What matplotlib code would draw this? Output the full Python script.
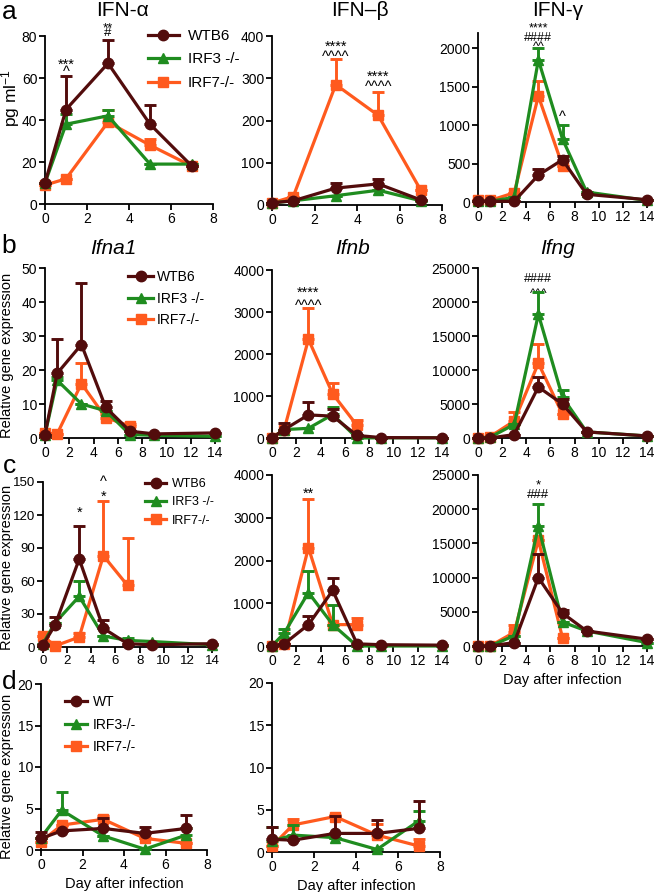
import matplotlib
matplotlib.use("Agg")
import matplotlib.pyplot as plt
from matplotlib.lines import Line2D
from matplotlib.transforms import ScaledTranslation
import numpy as np

plt.rcParams['font.family'] = ['Liberation Sans', 'DejaVu Sans']
plt.rcParams['mathtext.fontset'] = 'custom'
plt.rcParams['mathtext.rm'] = 'Liberation Sans'
plt.rcParams['mathtext.it'] = 'Liberation Sans:italic'

W, H = 654, 892
C_WT = '#520c0c'
C_3 = '#1f8c1f'
C_7 = '#ff5a1e'

# ---------------- data ----------------
days_a = [0, 1, 3, 5, 7]
days_long = [0, 1, 3, 5, 7, 9, 14]

# Panel a: IFN-alpha (pg/ml)
a1_wt = [10, 45, 67, 38, 18]
a1_wt_err = [10, 61, 78, 47, 18]
a1_irf3 = [10, 38, 42, 19, 19]
a1_irf3_err = [10, 43, 45, 19, 19]
a1_irf7 = [9, 12, 39, 28, 18]
a1_irf7_err = [9, 12, 45, 31, 18]
# IFN-beta
a2_wt = [5, 10, 40, 50, 12]
a2_wt_err = [5, 10, 52, 62, 12]
a2_irf3 = [5, 10, 22, 35, 10]
a2_irf3_err = [5, 10, 22, 35, 10]
a2_irf7 = [5, 20, 285, 212, 35]
a2_irf7_err = [5, 20, 345, 268, 35]
# IFN-gamma
a3_wt = [10, 10, 10, 350, 550, 100, 30]
a3_wt_err = [10, 10, 10, 430, 600, 100, 30]
a3_irf3 = [10, 10, 60, 1850, 820, 130, 20]
a3_irf3_err = [10, 10, 60, 2000, 1000, 130, 20]
a3_irf7 = [20, 20, 120, 1380, 470]
a3_irf7_err = [20, 20, 120, 1580, 470]

# Panel b: Ifna1 / Ifnb / Ifng
b1_wt = [1, 19, 27.5, 9, 2, 1.2, 1.5]
b1_wt_err = [1, 29, 45.5, 11, 2, 1.2, 1.5]
b1_irf3 = [1, 17, 10, 8, 1, 0.8, 0.5]
b1_irf3_err = [1, 18, 10, 8, 1, 0.8, 0.5]
b1_irf7 = [1.5, 1.2, 16, 6, 3.5]
b1_irf7_err = [1.5, 1.2, 22, 7, 4]
b2_wt = [0, 200, 550, 520, 60, 10, 5]
b2_wt_err = [0, 350, 850, 680, 60, 10, 5]
b2_irf3 = [0, 200, 230, 560, 0, 5, 5]
b2_irf3_err = [0, 200, 230, 750, 0, 5, 5]
b2_irf7 = [0, 200, 2350, 1050, 300]
b2_irf7_err = [0, 200, 3100, 1300, 430]
b3_wt = [0, 0, 500, 7500, 5000, 900, 300]
b3_wt_err = [0, 0, 500, 9000, 5700, 900, 300]
b3_irf3 = [0, 100, 2000, 18200, 6000, 900, 300]
b3_irf3_err = [0, 100, 2000, 21500, 7000, 900, 300]
b3_irf7 = [0, 200, 2500, 11000, 3500]
b3_irf7_err = [0, 200, 3800, 13800, 3500]

# Panel c
c1_wt = [2, 20, 80, 17, 3, 2, 3]
c1_wt_err = [2, 27, 110, 25, 3, 2, 3]
c1_irf3 = [3, 22, 46, 10, 6, 5, 2]
c1_irf3_err = [3, 22, 60, 10, 8, 5, 2]
c1_irf7 = [10, 1, 9, 83, 56]
c1_irf7_err = [10, 1, 13, 133, 99]
c2_wt = [0, 50, 500, 1300, 50, 30, 20]
c2_wt_err = [0, 50, 700, 1600, 50, 30, 20]
c2_irf3 = [0, 300, 1250, 500, 0, 0, 0]
c2_irf3_err = [0, 400, 1750, 950, 0, 0, 0]
c2_irf7 = [0, 50, 2300, 500, 500]
c2_irf7_err = [0, 50, 3450, 500, 650]
c3_wt = [0, 0, 500, 10000, 4800, 2200, 1000]
c3_wt_err = [0, 0, 500, 13500, 5200, 2200, 1000]
c3_irf3 = [0, 0, 1500, 17500, 3500, 2200, 500]
c3_irf3_err = [0, 0, 1500, 20800, 3500, 2200, 500]
c3_irf7 = [0, 0, 2000, 15500, 1200]
c3_irf7_err = [0, 0, 3000, 15500, 1200]

# Panel d
d1_wt = [1.4, 2.3, 2.6, 2.0, 2.6]
d1_wt_err = [2.2, 2.3, 3.8, 2.8, 4.2]
d1_irf3 = [1.5, 4.8, 1.7, 0.1, 1.8]
d1_irf3_err = [1.5, 7.0, 1.7, 0.1, 2.6]
d1_irf7 = [1.0, 3.0, 3.7, 1.4, 0.8]
d1_irf7_err = [1.0, 3.0, 4.1, 1.4, 0.8]
d2_wt = [1.5, 1.4, 2.2, 2.2, 2.8]
d2_wt_err = [3.0, 1.4, 4.3, 3.8, 6.0]
d2_irf3 = [1.3, 2.0, 1.7, 0.3, 3.7]
d2_irf3_err = [3.0, 3.2, 1.7, 0.3, 4.9]
d2_irf7 = [0.7, 3.2, 4.2, 2.0, 0.7]
d2_irf7_err = [0.7, 3.9, 4.4, 3.3, 1.5]

labels_abc = ['WTB6', 'IRF3 -/-', 'IRF7-/-']
labels_d = ['WT', 'IRF3-/-', 'IRF7-/-']

fig = plt.figure(figsize=(W / 100, H / 100), dpi=100)


def make_ax(x0, x1, yb, yt, xlim, ylim, xticks, yticks, tfs=10):
    ax = fig.add_axes([x0 / W, 1 - yb / H, (x1 - x0) / W, (yb - yt) / H])
    ax.set_xlim(xlim)
    ax.set_ylim(ylim)
    ax.set_xticks(xticks)
    ax.set_yticks(yticks)
    for s in ['top', 'right']:
        ax.spines[s].set_visible(False)
    for s in ['left', 'bottom']:
        ax.spines[s].set_linewidth(1.3)
    ax.tick_params(direction='out', length=4, width=1.3, labelsize=tfs, pad=1.5)
    ax.patch.set_alpha(0)
    return ax


def series(ax, x, y, ye, color, marker, z, ms=7):
    x = np.array(x[:len(y)], dtype=float)
    y = np.array(y, dtype=float)
    up = np.array(ye, dtype=float) - y
    ax.errorbar(x, y, yerr=[np.zeros_like(up), up], color=color, ecolor=color,
                lw=2.3, elinewidth=2.1, capsize=4.5, capthick=2.1, marker=marker,
                ms=ms, zorder=z, clip_on=False)


def three(ax, x, wt, wte, i3, i3e, i7, i7e):
    series(ax, x, i7, i7e, C_7, 's', 3, 7)
    series(ax, x, i3, i3e, C_3, '^', 4, 7)
    series(ax, x, wt, wte, C_WT, 'o', 5, 7.5)


def legend(ax, labels, xpx, ypx, fs, hl, pad, spacing):
    handles = [Line2D([], [], color=C_WT, marker='o', lw=2.3, ms=7.5),
               Line2D([], [], color=C_3, marker='^', lw=2.3, ms=7),
               Line2D([], [], color=C_7, marker='s', lw=2.3, ms=7)]
    ax.legend(handles, labels, loc='upper left', bbox_to_anchor=(xpx / W, 1 - ypx / H),
              bbox_transform=fig.transFigure, frameon=False, fontsize=fs,
              handlelength=hl, handletextpad=pad, labelspacing=spacing,
              borderpad=0, borderaxespad=0)


# glyph centre height above baseline (em)
KOFF = {'*': 0.57, '^': 0.52, '#': 0.36}
ASC = 0.716   # 'l' ascent (em)
DESC = 0.21   # 'p' descent (em)


def stack(ax, x, y, lines, sep_px, fs):
    """Stacked significance marks; y = data y of the centre of the top glyph row."""
    fpx = fs * 100 / 72
    n = len(lines)
    k0, k1 = KOFF[lines[0][0]], KOFF[lines[-1][0]]
    ls = 1.0
    if n > 1:
        step = (sep_px * (n - 1) - (k0 - k1) * fpx) / (n - 1)
        ls = max((step / fpx - DESC) / ASC, 0.01)
    up = (ASC - k0) * fs / 72
    tr = ax.transData + ScaledTranslation(0, up, fig.dpi_scale_trans)
    ax.text(x, y, '\n'.join(lines), ha='center', va='top', fontsize=fs,
            linespacing=ls, transform=tr, clip_on=False)


def title(xpx, ypx, s, italic=False):
    fig.text(xpx / W, 1 - ypx / H, s, fontsize=15, ha='center', va='center',
             style='italic' if italic else 'normal')


# ---------- row a ----------
ax = make_ax(45, 213, 204, 36, (0, 8), (0, 80), range(0, 9, 2), range(0, 81, 20))
three(ax, days_a, a1_wt, a1_wt_err, a1_irf3, a1_irf3_err, a1_irf7, a1_irf7_err)
stack(ax, 1, 68.6, ['***', '^'], 8, 10.5)
stack(ax, 3, 85.5, ['**', '#'], 7.5, 9.5)
legend(ax, labels_abc, 148, 29, 11, 2.0, 0.6, 0.62)
title(123, 11, 'IFN-α')

ax = make_ax(272, 442, 205, 36, (0, 8), (0, 400), range(0, 9, 2), range(0, 401, 100))
three(ax, days_a, a2_wt, a2_wt_err, a2_irf3, a2_irf3_err, a2_irf7, a2_irf7_err)
stack(ax, 3, 386, ['****', '^^^^'], 11, 10.5)
stack(ax, 5, 315, ['****', '^^^^'], 11, 10.5)
title(360, 11, 'IFN–β')

ax = make_ax(478, 647, 202, 33, (0, 14), (0, 2200), range(0, 15, 2), range(0, 2001, 500))
three(ax, days_long, a3_wt, a3_wt_err, a3_irf3, a3_irf3_err, a3_irf7, a3_irf7_err)
stack(ax, 5, 2308, ['****', '####', '^^'], 9, 9)
stack(ax, 7, 1160, ['^'], 0, 10.5)
title(558, 11, 'IFN-γ')

# ---------- row b ----------
ax = make_ax(45, 215, 438, 268, (0, 14), (0, 50), range(0, 15, 2), range(0, 51, 10))
three(ax, days_long, b1_wt, b1_wt_err, b1_irf3, b1_irf3_err, b1_irf7, b1_irf7_err)
legend(ax, labels_abc, 128, 270, 10, 1.8, 0.3, 0.55)
title(113, 248, 'Ifna1', True)

ax = make_ax(272, 442, 438, 270, (0, 14), (0, 4000), range(0, 15, 2), range(0, 4001, 1000))
three(ax, days_long, b2_wt, b2_wt_err, b2_irf3, b2_irf3_err, b2_irf7, b2_irf7_err)
stack(ax, 3, 3571, ['****', '^^^^'], 13, 10.5)
title(353, 248, 'Ifnb', True)

ax = make_ax(478, 647, 438, 268, (0, 14), (0, 25000), range(0, 15, 2), range(0, 25001, 5000))
three(ax, days_long, b3_wt, b3_wt_err, b3_irf3, b3_irf3_err, b3_irf7, b3_irf7_err)
stack(ax, 5, 23676, ['####', '^^^'], 13, 9)
title(558, 248, 'Ifng', True)

# ---------- row c ----------
ax = make_ax(43, 212, 647, 482, (0, 14), (0, 150), range(0, 15, 2), range(0, 151, 30), tfs=9.5)
three(ax, days_long, c1_wt, c1_wt_err, c1_irf3, c1_irf3_err, c1_irf7, c1_irf7_err)
stack(ax, 3, 126, ['*'], 0, 10.5)
stack(ax, 5, 154, ['^', '*'], 14, 10.5)
legend(ax, labels_abc, 145, 478, 9, 1.7, 0.45, 0.5)

ax = make_ax(272, 442, 646, 475, (0, 14), (0, 4000), range(0, 15, 2), range(0, 4001, 1000))
three(ax, days_long, c2_wt, c2_wt_err, c2_irf3, c2_irf3_err, c2_irf7, c2_irf7_err)
stack(ax, 3, 3670, ['**'], 0, 10.5)

ax = make_ax(478, 647, 646, 475, (0, 14), (0, 25000), range(0, 15, 2), range(0, 25001, 5000))
three(ax, days_long, c3_wt, c3_wt_err, c3_irf3, c3_irf3_err, c3_irf7, c3_irf7_err)
stack(ax, 5, 24100, ['*', '###'], 13, 9.5)
ax.set_xlabel('Day after infection', fontsize=10.5, labelpad=4)

# ---------- row d ----------
ax = make_ax(41, 207, 850, 684, (0, 8), (0, 20), range(0, 9, 2), range(0, 21, 5))
three(ax, days_a, d1_wt, d1_wt_err, d1_irf3, d1_irf3_err, d1_irf7, d1_irf7_err)
legend(ax, labels_d, 65, 695, 10, 1.6, 0.4, 0.62)
ax.set_xlabel('Day after infection', fontsize=10.5, labelpad=4)

ax = make_ax(272, 440, 852, 683, (0, 8), (0, 20), range(0, 9, 2), range(0, 21, 5))
three(ax, days_a, d2_wt, d2_wt_err, d2_irf3, d2_irf3_err, d2_irf7, d2_irf7_err)
ax.set_xlabel('Day after infection', fontsize=10.5, labelpad=4)

# ---------- labels ----------
for lab, ypx in [('a', 12), ('b', 246), ('c', 466), ('d', 682)]:
    fig.text(9 / W, 1 - ypx / H, lab, fontsize=19, va='center', ha='center')

fig.text(11 / W, 1 - 98 / H, 'pg ml$^{-1}$', rotation=90, fontsize=12.5, va='center', ha='center')
fig.text(7 / W, 1 - 355 / H, 'Relative gene expression', rotation=90, fontsize=10.5, va='center', ha='center')
fig.text(7 / W, 1 - 567 / H, 'Relative gene expression', rotation=90, fontsize=10.5, va='center', ha='center')
fig.text(7 / W, 1 - 776 / H, 'Relative gene expression', rotation=90, fontsize=10.5, va='center', ha='center')

fig.savefig('out.png', dpi=100)
